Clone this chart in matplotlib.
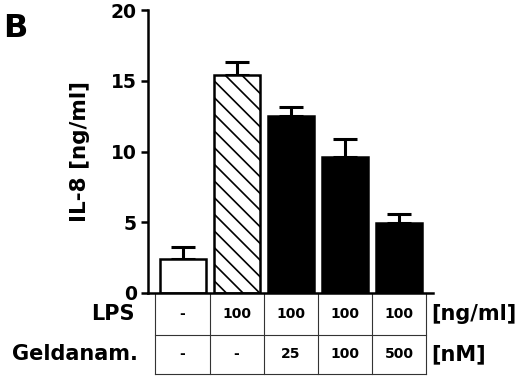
import numpy as np
import matplotlib
matplotlib.use("Agg")
from matplotlib import pyplot as plt

plt.rcParams['font.family'] = ['DejaVu Sans']
plt.rcParams['font.weight'] = 'bold'
plt.rcParams['hatch.linewidth'] = 1.2

# data
il8 = [2.4, 15.4, 12.5, 9.6, 4.95]
err = [0.85, 0.9, 0.65, 1.3, 0.65]
lps = ['-', '100', '100', '100', '100']
gelda = ['-', '-', '25', '100', '500']
faces = ['white', 'white', 'black', 'black', 'black']
hatches = ['', '\\\\', '', '', '']

fig = plt.figure(figsize=(5.2, 3.78), dpi=100)
ax = fig.add_axes([0.2846, 0.2249, 0.8327 - 0.2846, 0.9735 - 0.2249])

x = np.arange(len(il8))
bars = ax.bar(x, il8, width=0.85, color=faces, edgecolor='black',
              linewidth=1.8, hatch=hatches, zorder=2)
ax.errorbar(x, il8, yerr=[np.zeros(len(err)), err], fmt='none',
            ecolor='black', elinewidth=2.2, capsize=8.5, capthick=2.2, zorder=1)

ax.set_xlim(-0.638, 4.63)
ax.set_ylim(0, 20)
ax.set_yticks([0, 5, 10, 15, 20])
ax.set_xticks([])
ax.spines['top'].set_visible(False)
ax.spines['right'].set_visible(False)
ax.spines['left'].set_linewidth(1.8)
ax.spines['bottom'].set_linewidth(1.8)
ax.tick_params(axis='y', direction='out', length=5, width=1.8,
               labelsize=13.5, pad=3)
for t in ax.get_yticklabels():
    t.set_fontweight('bold')
ax.set_ylabel('IL-8 [ng/ml]', fontsize=15.5, fontweight='bold')
ax.yaxis.set_label_coords(-0.205, 0.5)

# table below the axis
r0, r1, r2 = 0.0, -2.97, -5.72
left, right = -0.5, len(il8) - 0.5
lkw = dict(color='#333333', linewidth=0.8, clip_on=False)
for yy in (r1, r2):
    ax.plot([left, right], [yy, yy], **lkw)
for i in range(len(il8) + 1):
    ax.plot([i - 0.5, i - 0.5], [r0, r2], **lkw)
for i in range(len(il8)):
    ax.text(i, (r0 + r1) / 2, lps[i], ha='center', va='center',
            fontsize=10, fontweight='bold', clip_on=False)
    ax.text(i, (r1 + r2) / 2, gelda[i], ha='center', va='center',
            fontsize=10, fontweight='bold', clip_on=False)

ax.text(-0.88, (r0 + r1) / 2, 'LPS', ha='right', va='center',
        fontsize=15, fontweight='bold')
ax.text(-0.82, (r1 + r2) / 2, 'Geldanam.', ha='right', va='center',
        fontsize=15, fontweight='bold')
ax.text(4.6, (r0 + r1) / 2, '[ng/ml]', ha='left', va='center',
        fontsize=15, fontweight='bold')
ax.text(4.6, (r1 + r2) / 2, '[nM]', ha='left', va='center',
        fontsize=15, fontweight='bold')

fig.text(0.006, 0.925, 'B', fontsize=23, fontweight='bold', ha='left', va='center')

fig.savefig('out.png', dpi=100)
